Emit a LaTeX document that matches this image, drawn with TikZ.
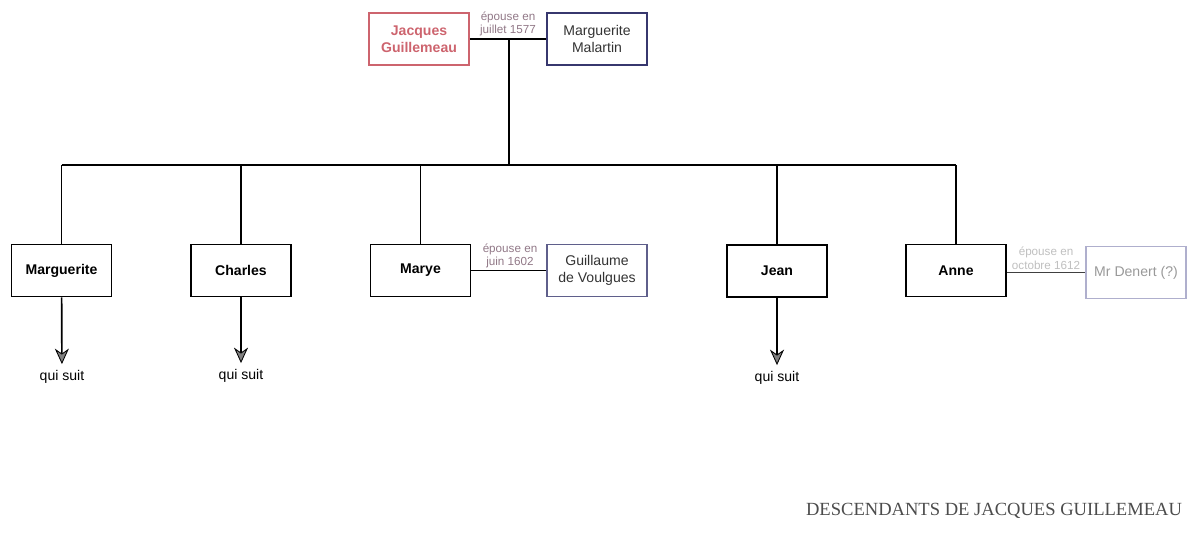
\documentclass[tikz,border=0pt]{standalone}
\usepackage{fontspec}
\setmainfont{Liberation Sans}
\newfontfamily\titrefont{Liberation Serif}
\usetikzlibrary{arrows.meta}
\definecolor{rouge}{RGB}{205,100,110}
\definecolor{bleu}{RGB}{55,55,110}
\definecolor{bleuclair}{RGB}{175,175,205}
\definecolor{mauve}{RGB}{145,120,135}

\begin{document}
\begin{tikzpicture}[x=0.025cm, y=-0.025cm,
  personne/.style={draw, line width=1.3pt, minimum width=2.5cm, minimum height=1.3cm,
    align=center, font=\bfseries\fontsize{10}{12}\selectfont},
  conjoint/.style={personne, line width=1pt, draw=bleu, text=black!80,
    font=\fontsize{10}{12}\selectfont},
  mariage/.style={align=center, text=mauve, font=\fontsize{8.3}{9.8}\selectfont},
  lien/.style={line width=1.2pt},
  suite/.style={lien, shorten >=1pt,
    -{Stealth[length={11pt 0 0}, width={10pt 0 0}, inset={3.5pt 0 0}, line width=0.6pt, fill=gray]}}]
  \useasboundingbox (0,0) rectangle (1200,549);

  \node[personne, draw=rouge, text=rouge] (jacques) at (419,39) {Jacques\\Guillemeau};
  \node[conjoint] (malartin) at (597,39) {Marguerite\\Malartin};
  \node[mariage] (m1577) at (508,24) {épouse en\\juillet 1577};
  \draw[lien] (jacques) -- (malartin);
  \coordinate (union) at (509,39);
  \coordinate (barre) at (509,165);
  \draw[lien] (union) -- (barre);

  \node[personne] (marguerite) at (61.5,270.5) {Marguerite};
  \node[personne] (charles) at (241,270.5) {Charles};
  \node[personne] (marye) at (420.5,270.5) {Marye};
  \node[personne] (jean) at (777,271) {Jean};
  \node[personne] (anne) at (956,270.5) {Anne};

  \draw[lien] (barre -| marguerite) -- (barre -| anne);
  \draw[lien] (barre -| marguerite) -- (marguerite);
  \draw[lien] (barre -| charles) -- (charles);
  \draw[lien] (barre -| marye) -- (marye);
  \draw[lien] (barre -| jean) -- (jean);
  \draw[lien] (barre -| anne) -- (anne);

  \node[conjoint, draw=bleu!80] (guillaume) at (597,270.5) {Guillaume\\de Voulgues};
  \node[mariage] (m1602) at (510,256) {épouse en\\juin 1602};
  \draw[lien] (marye) -- (guillaume);

  \node[conjoint, draw=bleuclair, text=black!40] (denert) at (1136,272.5) {Mr Denert (?)};
  \node[mariage, text=black!25] (m1612) at (1046,258) {épouse en\\octobre 1612};
  \draw[lien, black!75] (anne.east |- denert) -- (denert);

  \node[font=\fontsize{10}{12}\selectfont] (suite1) at (62,377) {qui suit};
  \node[font=\fontsize{10}{12}\selectfont] (suite2) at (241,376) {qui suit};
  \node[font=\fontsize{10}{12}\selectfont] (suite3) at (777,378) {qui suit};
  \draw[suite] (marguerite) -- (suite1);
  \draw[suite] (charles) -- (suite2);
  \draw[suite] (jean) -- (suite3);

  \node[text=black!70, font=\titrefont\fontsize{13.2}{15}\selectfont] (titre) at (994,511)
    {DESCENDANTS DE JACQUES GUILLEMEAU};
\end{tikzpicture}
\end{document}
